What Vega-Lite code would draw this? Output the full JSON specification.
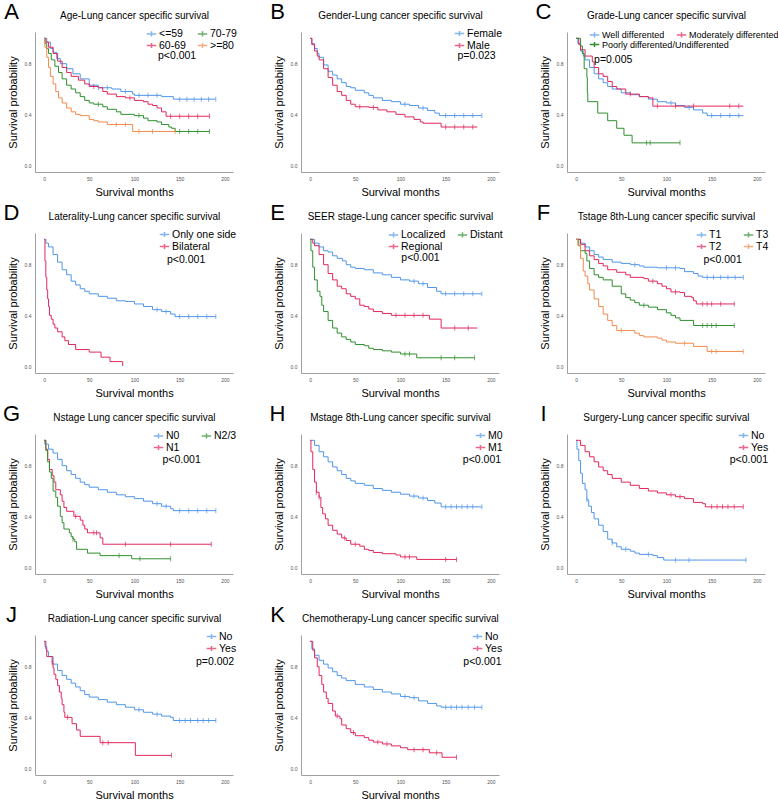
{
"$schema":"https://vega.github.io/schema/vega-lite/v6.json",
"padding":{"left":2,"top":0,"right":0,"bottom":0},
"columns":3,
"spacing":{"row":4,"column":32},
"resolve":{"scale":{"color":"independent","stroke":"independent","x":"independent","y":"independent"},"legend":{"color":"independent","stroke":"independent"}},
"config":{"font":"Liberation Sans","view":{"stroke":null},
"axis":{"domainColor":"#a0a0a0","ticks":false,"grid":false,"labelFontSize":5,"labelColor":"#555","titleFontSize":11,"titleFontWeight":"normal","titleColor":"#000","labelPadding":4},
"axisX":{"titlePadding":5},"axisY":{"titlePadding":6},
"legend":{"orient":"top-right","offset":-4,"padding":0,"labelFontSize":10.5,"labelColor":"#000","symbolType":"M-1,0H1M0,-0.55V0.55","symbolSize":90,"symbolStrokeWidth":1.5,"rowPadding":-6,"columnPadding":8,"labelOffset":2},
"text":{"color":"#000"}},
"datasets":{
"notes":[
{"p":"A","letter":"A","title":"Age-Lung cancer specific survival","pv":"p<0.001"},
{"p":"B","letter":"B","title":"Gender-Lung cancer specific survival","pv":"p=0.023"},
{"p":"C","letter":"C","title":"Grade-Lung cancer specific survival","pv":"p=0.005"},
{"p":"D","letter":"D","title":"Laterality-Lung cancer specific survival","pv":"p<0.001"},
{"p":"E","letter":"E","title":"SEER stage-Lung cancer specific survival","pv":"p<0.001"},
{"p":"F","letter":"F","title":"Tstage 8th-Lung cancer specific survival","pv":"p<0.001"},
{"p":"G","letter":"G","title":"Nstage Lung cancer specific survival","pv":"p<0.001"},
{"p":"H","letter":"H","title":"Mstage 8th-Lung cancer specific survival","pv":"p<0.001"},
{"p":"I","letter":"I","title":"Surgery-Lung cancer specific survival","pv":"p<0.001"},
{"p":"J","letter":"J","title":"Radiation-Lung cancer specific survival","pv":"p=0.002"},
{"p":"K","letter":"K","title":"Chemotherapy-Lung cancer specific survival","pv":"p<0.001"}
],
"km":[
{"p":"A","g":"<=59","t":0,"s":1},{"p":"A","g":"<=59","t":3,"s":0.97},{"p":"A","g":"<=59","t":7,"s":0.92},{"p":"A","g":"<=59","t":10,"s":0.89},{"p":"A","g":"<=59","t":14,"s":0.84},{"p":"A","g":"<=59","t":18,"s":0.8},{"p":"A","g":"<=59","t":25,"s":0.76},{"p":"A","g":"<=59","t":32,"s":0.72},{"p":"A","g":"<=59","t":40,"s":0.68},{"p":"A","g":"<=59","t":50,"s":0.63},{"p":"A","g":"<=59","t":60,"s":0.61},{"p":"A","g":"<=59","t":75,"s":0.6},{"p":"A","g":"<=59","t":85,"s":0.58},{"p":"A","g":"<=59","t":98,"s":0.56},{"p":"A","g":"<=59","t":100,"s":0.55},{"p":"A","g":"<=59","t":130,"s":0.54},{"p":"A","g":"<=59","t":143,"s":0.52},{"p":"A","g":"<=59","t":190,"s":0.52},
{"p":"A","g":"60-69","t":0,"s":1},{"p":"A","g":"60-69","t":2,"s":0.97},{"p":"A","g":"60-69","t":5,"s":0.93},{"p":"A","g":"60-69","t":10,"s":0.88},{"p":"A","g":"60-69","t":15,"s":0.82},{"p":"A","g":"60-69","t":20,"s":0.77},{"p":"A","g":"60-69","t":25,"s":0.73},{"p":"A","g":"60-69","t":30,"s":0.7},{"p":"A","g":"60-69","t":38,"s":0.67},{"p":"A","g":"60-69","t":45,"s":0.64},{"p":"A","g":"60-69","t":50,"s":0.62},{"p":"A","g":"60-69","t":60,"s":0.61},{"p":"A","g":"60-69","t":65,"s":0.58},{"p":"A","g":"60-69","t":70,"s":0.56},{"p":"A","g":"60-69","t":80,"s":0.54},{"p":"A","g":"60-69","t":90,"s":0.53},{"p":"A","g":"60-69","t":100,"s":0.51},{"p":"A","g":"60-69","t":110,"s":0.5},{"p":"A","g":"60-69","t":115,"s":0.48},{"p":"A","g":"60-69","t":120,"s":0.47},{"p":"A","g":"60-69","t":125,"s":0.45},{"p":"A","g":"60-69","t":130,"s":0.42},{"p":"A","g":"60-69","t":135,"s":0.385},{"p":"A","g":"60-69","t":183,"s":0.385},
{"p":"A","g":"70-79","t":0,"s":1},{"p":"A","g":"70-79","t":1,"s":0.96},{"p":"A","g":"70-79","t":3,"s":0.92},{"p":"A","g":"70-79","t":5,"s":0.88},{"p":"A","g":"70-79","t":8,"s":0.83},{"p":"A","g":"70-79","t":12,"s":0.78},{"p":"A","g":"70-79","t":16,"s":0.73},{"p":"A","g":"70-79","t":20,"s":0.68},{"p":"A","g":"70-79","t":25,"s":0.63},{"p":"A","g":"70-79","t":30,"s":0.6},{"p":"A","g":"70-79","t":35,"s":0.57},{"p":"A","g":"70-79","t":40,"s":0.54},{"p":"A","g":"70-79","t":45,"s":0.51},{"p":"A","g":"70-79","t":50,"s":0.49},{"p":"A","g":"70-79","t":55,"s":0.48},{"p":"A","g":"70-79","t":65,"s":0.46},{"p":"A","g":"70-79","t":70,"s":0.44},{"p":"A","g":"70-79","t":80,"s":0.42},{"p":"A","g":"70-79","t":85,"s":0.4},{"p":"A","g":"70-79","t":100,"s":0.39},{"p":"A","g":"70-79","t":110,"s":0.37},{"p":"A","g":"70-79","t":115,"s":0.35},{"p":"A","g":"70-79","t":125,"s":0.34},{"p":"A","g":"70-79","t":130,"s":0.32},{"p":"A","g":"70-79","t":138,"s":0.3},{"p":"A","g":"70-79","t":141,"s":0.29},{"p":"A","g":"70-79","t":145,"s":0.265},{"p":"A","g":"70-79","t":183,"s":0.265},
{"p":"A","g":">=80","t":0,"s":1},{"p":"A","g":">=80","t":1,"s":0.93},{"p":"A","g":">=80","t":3,"s":0.85},{"p":"A","g":">=80","t":5,"s":0.77},{"p":"A","g":">=80","t":7,"s":0.7},{"p":"A","g":">=80","t":10,"s":0.64},{"p":"A","g":">=80","t":13,"s":0.58},{"p":"A","g":">=80","t":16,"s":0.53},{"p":"A","g":">=80","t":20,"s":0.49},{"p":"A","g":">=80","t":25,"s":0.45},{"p":"A","g":">=80","t":30,"s":0.42},{"p":"A","g":">=80","t":35,"s":0.4},{"p":"A","g":">=80","t":40,"s":0.39},{"p":"A","g":">=80","t":50,"s":0.36},{"p":"A","g":">=80","t":55,"s":0.35},{"p":"A","g":">=80","t":60,"s":0.34},{"p":"A","g":">=80","t":70,"s":0.32},{"p":"A","g":">=80","t":98,"s":0.265},{"p":"A","g":">=80","t":145,"s":0.265},
{"p":"B","g":"Female","t":0,"s":1},{"p":"B","g":"Female","t":2,"s":0.96},{"p":"B","g":"Female","t":5,"s":0.92},{"p":"B","g":"Female","t":8,"s":0.88},{"p":"B","g":"Female","t":10,"s":0.85},{"p":"B","g":"Female","t":15,"s":0.79},{"p":"B","g":"Female","t":20,"s":0.74},{"p":"B","g":"Female","t":25,"s":0.71},{"p":"B","g":"Female","t":30,"s":0.68},{"p":"B","g":"Female","t":35,"s":0.65},{"p":"B","g":"Female","t":40,"s":0.62},{"p":"B","g":"Female","t":45,"s":0.61},{"p":"B","g":"Female","t":50,"s":0.59},{"p":"B","g":"Female","t":60,"s":0.57},{"p":"B","g":"Female","t":65,"s":0.55},{"p":"B","g":"Female","t":70,"s":0.53},{"p":"B","g":"Female","t":80,"s":0.51},{"p":"B","g":"Female","t":90,"s":0.5},{"p":"B","g":"Female","t":100,"s":0.48},{"p":"B","g":"Female","t":110,"s":0.47},{"p":"B","g":"Female","t":120,"s":0.45},{"p":"B","g":"Female","t":130,"s":0.43},{"p":"B","g":"Female","t":138,"s":0.41},{"p":"B","g":"Female","t":143,"s":0.39},{"p":"B","g":"Female","t":190,"s":0.39},
{"p":"B","g":"Male","t":0,"s":1},{"p":"B","g":"Male","t":2,"s":0.95},{"p":"B","g":"Male","t":5,"s":0.9},{"p":"B","g":"Male","t":8,"s":0.86},{"p":"B","g":"Male","t":10,"s":0.83},{"p":"B","g":"Male","t":15,"s":0.76},{"p":"B","g":"Male","t":20,"s":0.69},{"p":"B","g":"Male","t":25,"s":0.63},{"p":"B","g":"Male","t":30,"s":0.58},{"p":"B","g":"Male","t":35,"s":0.55},{"p":"B","g":"Male","t":40,"s":0.51},{"p":"B","g":"Male","t":45,"s":0.48},{"p":"B","g":"Male","t":50,"s":0.46},{"p":"B","g":"Male","t":65,"s":0.455},{"p":"B","g":"Male","t":75,"s":0.435},{"p":"B","g":"Male","t":85,"s":0.42},{"p":"B","g":"Male","t":95,"s":0.4},{"p":"B","g":"Male","t":105,"s":0.38},{"p":"B","g":"Male","t":115,"s":0.36},{"p":"B","g":"Male","t":122,"s":0.34},{"p":"B","g":"Male","t":125,"s":0.33},{"p":"B","g":"Male","t":145,"s":0.3},{"p":"B","g":"Male","t":185,"s":0.3},
{"p":"C","g":"Well differented","t":0,"s":1},{"p":"C","g":"Well differented","t":2,"s":0.96},{"p":"C","g":"Well differented","t":5,"s":0.9},{"p":"C","g":"Well differented","t":8,"s":0.86},{"p":"C","g":"Well differented","t":10,"s":0.83},{"p":"C","g":"Well differented","t":15,"s":0.77},{"p":"C","g":"Well differented","t":20,"s":0.72},{"p":"C","g":"Well differented","t":25,"s":0.68},{"p":"C","g":"Well differented","t":30,"s":0.65},{"p":"C","g":"Well differented","t":35,"s":0.62},{"p":"C","g":"Well differented","t":40,"s":0.6},{"p":"C","g":"Well differented","t":50,"s":0.57},{"p":"C","g":"Well differented","t":60,"s":0.555},{"p":"C","g":"Well differented","t":70,"s":0.54},{"p":"C","g":"Well differented","t":80,"s":0.52},{"p":"C","g":"Well differented","t":90,"s":0.5},{"p":"C","g":"Well differented","t":100,"s":0.49},{"p":"C","g":"Well differented","t":110,"s":0.47},{"p":"C","g":"Well differented","t":120,"s":0.455},{"p":"C","g":"Well differented","t":130,"s":0.435},{"p":"C","g":"Well differented","t":140,"s":0.41},{"p":"C","g":"Well differented","t":145,"s":0.39},{"p":"C","g":"Well differented","t":185,"s":0.39},
{"p":"C","g":"Moderately differented","t":0,"s":1},{"p":"C","g":"Moderately differented","t":3,"s":0.95},{"p":"C","g":"Moderately differented","t":5,"s":0.91},{"p":"C","g":"Moderately differented","t":10,"s":0.86},{"p":"C","g":"Moderately differented","t":18,"s":0.815},{"p":"C","g":"Moderately differented","t":20,"s":0.77},{"p":"C","g":"Moderately differented","t":25,"s":0.72},{"p":"C","g":"Moderately differented","t":30,"s":0.7},{"p":"C","g":"Moderately differented","t":35,"s":0.66},{"p":"C","g":"Moderately differented","t":40,"s":0.62},{"p":"C","g":"Moderately differented","t":45,"s":0.6},{"p":"C","g":"Moderately differented","t":55,"s":0.56},{"p":"C","g":"Moderately differented","t":70,"s":0.54},{"p":"C","g":"Moderately differented","t":80,"s":0.53},{"p":"C","g":"Moderately differented","t":85,"s":0.465},{"p":"C","g":"Moderately differented","t":185,"s":0.465},
{"p":"C","g":"Poorly differented/Undifferented","t":0,"s":1},{"p":"C","g":"Poorly differented/Undifferented","t":5,"s":0.94},{"p":"C","g":"Poorly differented/Undifferented","t":7,"s":0.88},{"p":"C","g":"Poorly differented/Undifferented","t":9,"s":0.76},{"p":"C","g":"Poorly differented/Undifferented","t":12,"s":0.69},{"p":"C","g":"Poorly differented/Undifferented","t":12.5,"s":0.57},{"p":"C","g":"Poorly differented/Undifferented","t":13,"s":0.5},{"p":"C","g":"Poorly differented/Undifferented","t":24,"s":0.41},{"p":"C","g":"Poorly differented/Undifferented","t":35,"s":0.35},{"p":"C","g":"Poorly differented/Undifferented","t":45,"s":0.29},{"p":"C","g":"Poorly differented/Undifferented","t":53,"s":0.235},{"p":"C","g":"Poorly differented/Undifferented","t":62,"s":0.175},{"p":"C","g":"Poorly differented/Undifferented","t":115,"s":0.175},
{"p":"D","g":"Only one side","t":0,"s":1},{"p":"D","g":"Only one side","t":2,"s":0.97},{"p":"D","g":"Only one side","t":5,"s":0.94},{"p":"D","g":"Only one side","t":10,"s":0.88},{"p":"D","g":"Only one side","t":15,"s":0.82},{"p":"D","g":"Only one side","t":20,"s":0.76},{"p":"D","g":"Only one side","t":25,"s":0.72},{"p":"D","g":"Only one side","t":30,"s":0.67},{"p":"D","g":"Only one side","t":35,"s":0.64},{"p":"D","g":"Only one side","t":40,"s":0.61},{"p":"D","g":"Only one side","t":45,"s":0.59},{"p":"D","g":"Only one side","t":50,"s":0.57},{"p":"D","g":"Only one side","t":60,"s":0.55},{"p":"D","g":"Only one side","t":70,"s":0.535},{"p":"D","g":"Only one side","t":80,"s":0.515},{"p":"D","g":"Only one side","t":90,"s":0.51},{"p":"D","g":"Only one side","t":100,"s":0.49},{"p":"D","g":"Only one side","t":110,"s":0.47},{"p":"D","g":"Only one side","t":120,"s":0.445},{"p":"D","g":"Only one side","t":130,"s":0.43},{"p":"D","g":"Only one side","t":140,"s":0.41},{"p":"D","g":"Only one side","t":145,"s":0.39},{"p":"D","g":"Only one side","t":190,"s":0.39},
{"p":"D","g":"Bilateral","t":0,"s":1},{"p":"D","g":"Bilateral","t":1,"s":0.83},{"p":"D","g":"Bilateral","t":2,"s":0.7},{"p":"D","g":"Bilateral","t":3,"s":0.6},{"p":"D","g":"Bilateral","t":4,"s":0.53},{"p":"D","g":"Bilateral","t":5,"s":0.47},{"p":"D","g":"Bilateral","t":6,"s":0.4},{"p":"D","g":"Bilateral","t":8,"s":0.37},{"p":"D","g":"Bilateral","t":10,"s":0.33},{"p":"D","g":"Bilateral","t":12,"s":0.3},{"p":"D","g":"Bilateral","t":15,"s":0.27},{"p":"D","g":"Bilateral","t":20,"s":0.23},{"p":"D","g":"Bilateral","t":23,"s":0.2},{"p":"D","g":"Bilateral","t":27,"s":0.17},{"p":"D","g":"Bilateral","t":35,"s":0.13},{"p":"D","g":"Bilateral","t":50,"s":0.11},{"p":"D","g":"Bilateral","t":63,"s":0.07},{"p":"D","g":"Bilateral","t":73,"s":0.035},{"p":"D","g":"Bilateral","t":87,"s":0},
{"p":"E","g":"Localized","t":0,"s":1},{"p":"E","g":"Localized","t":5,"s":0.97},{"p":"E","g":"Localized","t":10,"s":0.94},{"p":"E","g":"Localized","t":15,"s":0.91},{"p":"E","g":"Localized","t":20,"s":0.9},{"p":"E","g":"Localized","t":25,"s":0.87},{"p":"E","g":"Localized","t":30,"s":0.85},{"p":"E","g":"Localized","t":36,"s":0.83},{"p":"E","g":"Localized","t":40,"s":0.8},{"p":"E","g":"Localized","t":45,"s":0.78},{"p":"E","g":"Localized","t":50,"s":0.77},{"p":"E","g":"Localized","t":60,"s":0.76},{"p":"E","g":"Localized","t":70,"s":0.735},{"p":"E","g":"Localized","t":80,"s":0.72},{"p":"E","g":"Localized","t":90,"s":0.7},{"p":"E","g":"Localized","t":100,"s":0.68},{"p":"E","g":"Localized","t":110,"s":0.67},{"p":"E","g":"Localized","t":120,"s":0.65},{"p":"E","g":"Localized","t":130,"s":0.62},{"p":"E","g":"Localized","t":140,"s":0.59},{"p":"E","g":"Localized","t":145,"s":0.57},{"p":"E","g":"Localized","t":190,"s":0.57},
{"p":"E","g":"Regional","t":0,"s":1},{"p":"E","g":"Regional","t":3,"s":0.97},{"p":"E","g":"Regional","t":5,"s":0.95},{"p":"E","g":"Regional","t":10,"s":0.88},{"p":"E","g":"Regional","t":15,"s":0.8},{"p":"E","g":"Regional","t":20,"s":0.73},{"p":"E","g":"Regional","t":25,"s":0.68},{"p":"E","g":"Regional","t":30,"s":0.63},{"p":"E","g":"Regional","t":35,"s":0.61},{"p":"E","g":"Regional","t":40,"s":0.57},{"p":"E","g":"Regional","t":45,"s":0.55},{"p":"E","g":"Regional","t":50,"s":0.53},{"p":"E","g":"Regional","t":55,"s":0.48},{"p":"E","g":"Regional","t":60,"s":0.47},{"p":"E","g":"Regional","t":65,"s":0.45},{"p":"E","g":"Regional","t":70,"s":0.43},{"p":"E","g":"Regional","t":80,"s":0.415},{"p":"E","g":"Regional","t":90,"s":0.4},{"p":"E","g":"Regional","t":132,"s":0.37},{"p":"E","g":"Regional","t":145,"s":0.3},{"p":"E","g":"Regional","t":185,"s":0.3},
{"p":"E","g":"Distant","t":0,"s":1},{"p":"E","g":"Distant","t":1,"s":0.91},{"p":"E","g":"Distant","t":3,"s":0.78},{"p":"E","g":"Distant","t":5,"s":0.68},{"p":"E","g":"Distant","t":8,"s":0.59},{"p":"E","g":"Distant","t":11,"s":0.55},{"p":"E","g":"Distant","t":13,"s":0.48},{"p":"E","g":"Distant","t":15,"s":0.43},{"p":"E","g":"Distant","t":20,"s":0.36},{"p":"E","g":"Distant","t":25,"s":0.3},{"p":"E","g":"Distant","t":30,"s":0.26},{"p":"E","g":"Distant","t":35,"s":0.23},{"p":"E","g":"Distant","t":40,"s":0.21},{"p":"E","g":"Distant","t":45,"s":0.19},{"p":"E","g":"Distant","t":50,"s":0.17},{"p":"E","g":"Distant","t":60,"s":0.16},{"p":"E","g":"Distant","t":65,"s":0.14},{"p":"E","g":"Distant","t":70,"s":0.13},{"p":"E","g":"Distant","t":80,"s":0.12},{"p":"E","g":"Distant","t":90,"s":0.11},{"p":"E","g":"Distant","t":100,"s":0.095},{"p":"E","g":"Distant","t":118,"s":0.065},{"p":"E","g":"Distant","t":182,"s":0.065},
{"p":"F","g":"T1","t":0,"s":1},{"p":"F","g":"T1","t":5,"s":0.97},{"p":"F","g":"T1","t":10,"s":0.94},{"p":"F","g":"T1","t":15,"s":0.91},{"p":"F","g":"T1","t":20,"s":0.88},{"p":"F","g":"T1","t":25,"s":0.86},{"p":"F","g":"T1","t":30,"s":0.84},{"p":"F","g":"T1","t":40,"s":0.82},{"p":"F","g":"T1","t":50,"s":0.81},{"p":"F","g":"T1","t":60,"s":0.8},{"p":"F","g":"T1","t":70,"s":0.79},{"p":"F","g":"T1","t":75,"s":0.78},{"p":"F","g":"T1","t":90,"s":0.775},{"p":"F","g":"T1","t":115,"s":0.77},{"p":"F","g":"T1","t":120,"s":0.745},{"p":"F","g":"T1","t":130,"s":0.73},{"p":"F","g":"T1","t":135,"s":0.71},{"p":"F","g":"T1","t":140,"s":0.7},{"p":"F","g":"T1","t":185,"s":0.7},
{"p":"F","g":"T2","t":0,"s":1},{"p":"F","g":"T2","t":5,"s":0.96},{"p":"F","g":"T2","t":10,"s":0.91},{"p":"F","g":"T2","t":15,"s":0.87},{"p":"F","g":"T2","t":20,"s":0.84},{"p":"F","g":"T2","t":25,"s":0.81},{"p":"F","g":"T2","t":30,"s":0.79},{"p":"F","g":"T2","t":35,"s":0.76},{"p":"F","g":"T2","t":45,"s":0.74},{"p":"F","g":"T2","t":55,"s":0.72},{"p":"F","g":"T2","t":60,"s":0.7},{"p":"F","g":"T2","t":75,"s":0.69},{"p":"F","g":"T2","t":80,"s":0.67},{"p":"F","g":"T2","t":90,"s":0.65},{"p":"F","g":"T2","t":95,"s":0.63},{"p":"F","g":"T2","t":100,"s":0.61},{"p":"F","g":"T2","t":105,"s":0.585},{"p":"F","g":"T2","t":115,"s":0.58},{"p":"F","g":"T2","t":120,"s":0.55},{"p":"F","g":"T2","t":128,"s":0.54},{"p":"F","g":"T2","t":130,"s":0.515},{"p":"F","g":"T2","t":133,"s":0.49},{"p":"F","g":"T2","t":175,"s":0.49},
{"p":"F","g":"T3","t":0,"s":1},{"p":"F","g":"T3","t":3,"s":0.95},{"p":"F","g":"T3","t":5,"s":0.91},{"p":"F","g":"T3","t":10,"s":0.89},{"p":"F","g":"T3","t":12,"s":0.83},{"p":"F","g":"T3","t":15,"s":0.77},{"p":"F","g":"T3","t":20,"s":0.72},{"p":"F","g":"T3","t":25,"s":0.7},{"p":"F","g":"T3","t":30,"s":0.68},{"p":"F","g":"T3","t":40,"s":0.63},{"p":"F","g":"T3","t":50,"s":0.57},{"p":"F","g":"T3","t":55,"s":0.54},{"p":"F","g":"T3","t":60,"s":0.52},{"p":"F","g":"T3","t":65,"s":0.5},{"p":"F","g":"T3","t":70,"s":0.48},{"p":"F","g":"T3","t":80,"s":0.465},{"p":"F","g":"T3","t":90,"s":0.445},{"p":"F","g":"T3","t":100,"s":0.42},{"p":"F","g":"T3","t":105,"s":0.4},{"p":"F","g":"T3","t":110,"s":0.38},{"p":"F","g":"T3","t":115,"s":0.36},{"p":"F","g":"T3","t":130,"s":0.32},{"p":"F","g":"T3","t":175,"s":0.32},
{"p":"F","g":"T4","t":0,"s":1},{"p":"F","g":"T4","t":2,"s":0.95},{"p":"F","g":"T4","t":5,"s":0.85},{"p":"F","g":"T4","t":8,"s":0.75},{"p":"F","g":"T4","t":10,"s":0.71},{"p":"F","g":"T4","t":13,"s":0.65},{"p":"F","g":"T4","t":15,"s":0.6},{"p":"F","g":"T4","t":20,"s":0.53},{"p":"F","g":"T4","t":25,"s":0.47},{"p":"F","g":"T4","t":30,"s":0.41},{"p":"F","g":"T4","t":35,"s":0.36},{"p":"F","g":"T4","t":40,"s":0.32},{"p":"F","g":"T4","t":45,"s":0.28},{"p":"F","g":"T4","t":60,"s":0.28},{"p":"F","g":"T4","t":65,"s":0.26},{"p":"F","g":"T4","t":70,"s":0.24},{"p":"F","g":"T4","t":75,"s":0.23},{"p":"F","g":"T4","t":90,"s":0.22},{"p":"F","g":"T4","t":95,"s":0.205},{"p":"F","g":"T4","t":100,"s":0.19},{"p":"F","g":"T4","t":110,"s":0.18},{"p":"F","g":"T4","t":130,"s":0.155},{"p":"F","g":"T4","t":145,"s":0.115},{"p":"F","g":"T4","t":185,"s":0.115},
{"p":"G","g":"N0","t":0,"s":1},{"p":"G","g":"N0","t":2,"s":0.97},{"p":"G","g":"N0","t":5,"s":0.93},{"p":"G","g":"N0","t":10,"s":0.9},{"p":"G","g":"N0","t":15,"s":0.85},{"p":"G","g":"N0","t":20,"s":0.8},{"p":"G","g":"N0","t":25,"s":0.76},{"p":"G","g":"N0","t":30,"s":0.73},{"p":"G","g":"N0","t":35,"s":0.7},{"p":"G","g":"N0","t":40,"s":0.67},{"p":"G","g":"N0","t":45,"s":0.65},{"p":"G","g":"N0","t":50,"s":0.63},{"p":"G","g":"N0","t":60,"s":0.61},{"p":"G","g":"N0","t":70,"s":0.59},{"p":"G","g":"N0","t":80,"s":0.57},{"p":"G","g":"N0","t":90,"s":0.555},{"p":"G","g":"N0","t":100,"s":0.54},{"p":"G","g":"N0","t":110,"s":0.52},{"p":"G","g":"N0","t":120,"s":0.5},{"p":"G","g":"N0","t":130,"s":0.48},{"p":"G","g":"N0","t":140,"s":0.46},{"p":"G","g":"N0","t":143,"s":0.445},{"p":"G","g":"N0","t":190,"s":0.445},
{"p":"G","g":"N1","t":0,"s":1},{"p":"G","g":"N1","t":2,"s":0.93},{"p":"G","g":"N1","t":4,"s":0.85},{"p":"G","g":"N1","t":6,"s":0.77},{"p":"G","g":"N1","t":9,"s":0.72},{"p":"G","g":"N1","t":11,"s":0.67},{"p":"G","g":"N1","t":13,"s":0.61},{"p":"G","g":"N1","t":18,"s":0.57},{"p":"G","g":"N1","t":20,"s":0.52},{"p":"G","g":"N1","t":22,"s":0.47},{"p":"G","g":"N1","t":25,"s":0.44},{"p":"G","g":"N1","t":33,"s":0.4},{"p":"G","g":"N1","t":40,"s":0.37},{"p":"G","g":"N1","t":43,"s":0.33},{"p":"G","g":"N1","t":45,"s":0.3},{"p":"G","g":"N1","t":48,"s":0.27},{"p":"G","g":"N1","t":62,"s":0.23},{"p":"G","g":"N1","t":65,"s":0.18},{"p":"G","g":"N1","t":185,"s":0.18},
{"p":"G","g":"N2/3","t":0,"s":1},{"p":"G","g":"N2/3","t":1,"s":0.97},{"p":"G","g":"N2/3","t":2,"s":0.92},{"p":"G","g":"N2/3","t":4,"s":0.83},{"p":"G","g":"N2/3","t":6,"s":0.75},{"p":"G","g":"N2/3","t":8,"s":0.7},{"p":"G","g":"N2/3","t":10,"s":0.6},{"p":"G","g":"N2/3","t":13,"s":0.55},{"p":"G","g":"N2/3","t":15,"s":0.48},{"p":"G","g":"N2/3","t":18,"s":0.4},{"p":"G","g":"N2/3","t":20,"s":0.35},{"p":"G","g":"N2/3","t":22,"s":0.3},{"p":"G","g":"N2/3","t":28,"s":0.27},{"p":"G","g":"N2/3","t":30,"s":0.24},{"p":"G","g":"N2/3","t":32,"s":0.22},{"p":"G","g":"N2/3","t":34,"s":0.2},{"p":"G","g":"N2/3","t":36,"s":0.14},{"p":"G","g":"N2/3","t":48,"s":0.11},{"p":"G","g":"N2/3","t":62,"s":0.09},{"p":"G","g":"N2/3","t":97,"s":0.065},{"p":"G","g":"N2/3","t":140,"s":0.065},
{"p":"H","g":"M0","t":0,"s":1},{"p":"H","g":"M0","t":5,"s":0.96},{"p":"H","g":"M0","t":10,"s":0.91},{"p":"H","g":"M0","t":15,"s":0.87},{"p":"H","g":"M0","t":20,"s":0.83},{"p":"H","g":"M0","t":25,"s":0.79},{"p":"H","g":"M0","t":30,"s":0.76},{"p":"H","g":"M0","t":35,"s":0.73},{"p":"H","g":"M0","t":40,"s":0.7},{"p":"H","g":"M0","t":45,"s":0.68},{"p":"H","g":"M0","t":50,"s":0.66},{"p":"H","g":"M0","t":60,"s":0.645},{"p":"H","g":"M0","t":70,"s":0.62},{"p":"H","g":"M0","t":80,"s":0.605},{"p":"H","g":"M0","t":90,"s":0.59},{"p":"H","g":"M0","t":100,"s":0.575},{"p":"H","g":"M0","t":110,"s":0.56},{"p":"H","g":"M0","t":120,"s":0.545},{"p":"H","g":"M0","t":130,"s":0.525},{"p":"H","g":"M0","t":138,"s":0.505},{"p":"H","g":"M0","t":145,"s":0.475},{"p":"H","g":"M0","t":190,"s":0.475},
{"p":"H","g":"M1","t":0,"s":1},{"p":"H","g":"M1","t":1,"s":0.91},{"p":"H","g":"M1","t":3,"s":0.77},{"p":"H","g":"M1","t":5,"s":0.67},{"p":"H","g":"M1","t":7,"s":0.59},{"p":"H","g":"M1","t":10,"s":0.55},{"p":"H","g":"M1","t":12,"s":0.47},{"p":"H","g":"M1","t":14,"s":0.42},{"p":"H","g":"M1","t":17,"s":0.38},{"p":"H","g":"M1","t":20,"s":0.33},{"p":"H","g":"M1","t":25,"s":0.29},{"p":"H","g":"M1","t":30,"s":0.26},{"p":"H","g":"M1","t":35,"s":0.23},{"p":"H","g":"M1","t":40,"s":0.21},{"p":"H","g":"M1","t":45,"s":0.18},{"p":"H","g":"M1","t":55,"s":0.165},{"p":"H","g":"M1","t":60,"s":0.14},{"p":"H","g":"M1","t":65,"s":0.13},{"p":"H","g":"M1","t":70,"s":0.115},{"p":"H","g":"M1","t":80,"s":0.105},{"p":"H","g":"M1","t":95,"s":0.095},{"p":"H","g":"M1","t":100,"s":0.08},{"p":"H","g":"M1","t":118,"s":0.06},{"p":"H","g":"M1","t":162,"s":0.06},
{"p":"I","g":"No","t":0,"s":1},{"p":"I","g":"No","t":1,"s":0.93},{"p":"I","g":"No","t":3,"s":0.84},{"p":"I","g":"No","t":5,"s":0.74},{"p":"I","g":"No","t":7,"s":0.66},{"p":"I","g":"No","t":10,"s":0.61},{"p":"I","g":"No","t":12,"s":0.53},{"p":"I","g":"No","t":14,"s":0.48},{"p":"I","g":"No","t":17,"s":0.43},{"p":"I","g":"No","t":20,"s":0.38},{"p":"I","g":"No","t":25,"s":0.33},{"p":"I","g":"No","t":30,"s":0.28},{"p":"I","g":"No","t":35,"s":0.22},{"p":"I","g":"No","t":40,"s":0.19},{"p":"I","g":"No","t":45,"s":0.16},{"p":"I","g":"No","t":50,"s":0.14},{"p":"I","g":"No","t":60,"s":0.125},{"p":"I","g":"No","t":65,"s":0.11},{"p":"I","g":"No","t":70,"s":0.1},{"p":"I","g":"No","t":85,"s":0.09},{"p":"I","g":"No","t":90,"s":0.075},{"p":"I","g":"No","t":97,"s":0.055},{"p":"I","g":"No","t":188,"s":0.055},
{"p":"I","g":"Yes","t":0,"s":1},{"p":"I","g":"Yes","t":5,"s":0.96},{"p":"I","g":"Yes","t":10,"s":0.91},{"p":"I","g":"Yes","t":15,"s":0.87},{"p":"I","g":"Yes","t":20,"s":0.83},{"p":"I","g":"Yes","t":25,"s":0.79},{"p":"I","g":"Yes","t":30,"s":0.76},{"p":"I","g":"Yes","t":35,"s":0.73},{"p":"I","g":"Yes","t":40,"s":0.7},{"p":"I","g":"Yes","t":50,"s":0.67},{"p":"I","g":"Yes","t":60,"s":0.645},{"p":"I","g":"Yes","t":70,"s":0.62},{"p":"I","g":"Yes","t":80,"s":0.6},{"p":"I","g":"Yes","t":90,"s":0.585},{"p":"I","g":"Yes","t":100,"s":0.57},{"p":"I","g":"Yes","t":110,"s":0.555},{"p":"I","g":"Yes","t":120,"s":0.54},{"p":"I","g":"Yes","t":130,"s":0.51},{"p":"I","g":"Yes","t":140,"s":0.5},{"p":"I","g":"Yes","t":143,"s":0.475},{"p":"I","g":"Yes","t":185,"s":0.475},
{"p":"J","g":"No","t":0,"s":1},{"p":"J","g":"No","t":1,"s":0.96},{"p":"J","g":"No","t":3,"s":0.92},{"p":"J","g":"No","t":5,"s":0.88},{"p":"J","g":"No","t":10,"s":0.82},{"p":"J","g":"No","t":15,"s":0.77},{"p":"J","g":"No","t":20,"s":0.73},{"p":"J","g":"No","t":25,"s":0.7},{"p":"J","g":"No","t":30,"s":0.67},{"p":"J","g":"No","t":35,"s":0.64},{"p":"J","g":"No","t":40,"s":0.61},{"p":"J","g":"No","t":45,"s":0.58},{"p":"J","g":"No","t":50,"s":0.56},{"p":"J","g":"No","t":60,"s":0.54},{"p":"J","g":"No","t":70,"s":0.52},{"p":"J","g":"No","t":80,"s":0.5},{"p":"J","g":"No","t":90,"s":0.48},{"p":"J","g":"No","t":100,"s":0.46},{"p":"J","g":"No","t":110,"s":0.44},{"p":"J","g":"No","t":120,"s":0.425},{"p":"J","g":"No","t":130,"s":0.41},{"p":"J","g":"No","t":140,"s":0.4},{"p":"J","g":"No","t":143,"s":0.375},{"p":"J","g":"No","t":190,"s":0.375},
{"p":"J","g":"Yes","t":0,"s":1},{"p":"J","g":"Yes","t":2,"s":0.94},{"p":"J","g":"Yes","t":3,"s":0.88},{"p":"J","g":"Yes","t":9,"s":0.83},{"p":"J","g":"Yes","t":10,"s":0.79},{"p":"J","g":"Yes","t":11,"s":0.74},{"p":"J","g":"Yes","t":13,"s":0.7},{"p":"J","g":"Yes","t":15,"s":0.65},{"p":"J","g":"Yes","t":17,"s":0.6},{"p":"J","g":"Yes","t":19,"s":0.55},{"p":"J","g":"Yes","t":20,"s":0.5},{"p":"J","g":"Yes","t":22,"s":0.44},{"p":"J","g":"Yes","t":23,"s":0.4},{"p":"J","g":"Yes","t":31,"s":0.35},{"p":"J","g":"Yes","t":36,"s":0.3},{"p":"J","g":"Yes","t":40,"s":0.25},{"p":"J","g":"Yes","t":62,"s":0.2},{"p":"J","g":"Yes","t":101,"s":0.1},{"p":"J","g":"Yes","t":141,"s":0.1},
{"p":"K","g":"No","t":0,"s":1},{"p":"K","g":"No","t":2,"s":0.94},{"p":"K","g":"No","t":5,"s":0.89},{"p":"K","g":"No","t":10,"s":0.85},{"p":"K","g":"No","t":15,"s":0.82},{"p":"K","g":"No","t":20,"s":0.79},{"p":"K","g":"No","t":25,"s":0.76},{"p":"K","g":"No","t":30,"s":0.73},{"p":"K","g":"No","t":35,"s":0.71},{"p":"K","g":"No","t":40,"s":0.69},{"p":"K","g":"No","t":50,"s":0.66},{"p":"K","g":"No","t":60,"s":0.64},{"p":"K","g":"No","t":70,"s":0.62},{"p":"K","g":"No","t":80,"s":0.6},{"p":"K","g":"No","t":90,"s":0.585},{"p":"K","g":"No","t":100,"s":0.565},{"p":"K","g":"No","t":110,"s":0.555},{"p":"K","g":"No","t":120,"s":0.53},{"p":"K","g":"No","t":130,"s":0.51},{"p":"K","g":"No","t":140,"s":0.49},{"p":"K","g":"No","t":145,"s":0.48},{"p":"K","g":"No","t":190,"s":0.48},
{"p":"K","g":"Yes","t":0,"s":1},{"p":"K","g":"Yes","t":3,"s":0.93},{"p":"K","g":"Yes","t":5,"s":0.87},{"p":"K","g":"Yes","t":8,"s":0.8},{"p":"K","g":"Yes","t":10,"s":0.73},{"p":"K","g":"Yes","t":13,"s":0.66},{"p":"K","g":"Yes","t":15,"s":0.6},{"p":"K","g":"Yes","t":18,"s":0.55},{"p":"K","g":"Yes","t":20,"s":0.51},{"p":"K","g":"Yes","t":25,"s":0.45},{"p":"K","g":"Yes","t":28,"s":0.41},{"p":"K","g":"Yes","t":33,"s":0.39},{"p":"K","g":"Yes","t":35,"s":0.34},{"p":"K","g":"Yes","t":40,"s":0.31},{"p":"K","g":"Yes","t":45,"s":0.28},{"p":"K","g":"Yes","t":50,"s":0.255},{"p":"K","g":"Yes","t":60,"s":0.24},{"p":"K","g":"Yes","t":65,"s":0.22},{"p":"K","g":"Yes","t":70,"s":0.205},{"p":"K","g":"Yes","t":80,"s":0.19},{"p":"K","g":"Yes","t":90,"s":0.175},{"p":"K","g":"Yes","t":100,"s":0.16},{"p":"K","g":"Yes","t":108,"s":0.145},{"p":"K","g":"Yes","t":132,"s":0.12},{"p":"K","g":"Yes","t":146,"s":0.085},{"p":"K","g":"Yes","t":162,"s":0.085}
],
"cens":[
{"p":"A","g":"<=59","t":60,"s":0.61},{"p":"A","g":"<=59","t":70,"s":0.61},{"p":"A","g":"<=59","t":90,"s":0.58},{"p":"A","g":"<=59","t":105,"s":0.55},{"p":"A","g":"<=59","t":115,"s":0.55},{"p":"A","g":"<=59","t":125,"s":0.55},{"p":"A","g":"<=59","t":150,"s":0.52},{"p":"A","g":"<=59","t":158,"s":0.52},{"p":"A","g":"<=59","t":166,"s":0.52},{"p":"A","g":"<=59","t":174,"s":0.52},{"p":"A","g":"<=59","t":182,"s":0.52},{"p":"A","g":"<=59","t":190,"s":0.52},
{"p":"A","g":"60-69","t":55,"s":0.62},{"p":"A","g":"60-69","t":95,"s":0.53},{"p":"A","g":"60-69","t":140,"s":0.385},{"p":"A","g":"60-69","t":150,"s":0.385},{"p":"A","g":"60-69","t":160,"s":0.385},{"p":"A","g":"60-69","t":170,"s":0.385},{"p":"A","g":"60-69","t":183,"s":0.385},
{"p":"A","g":"70-79","t":60,"s":0.48},{"p":"A","g":"70-79","t":105,"s":0.39},{"p":"A","g":"70-79","t":150,"s":0.265},{"p":"A","g":"70-79","t":160,"s":0.265},{"p":"A","g":"70-79","t":170,"s":0.265},{"p":"A","g":"70-79","t":183,"s":0.265},
{"p":"A","g":">=80","t":80,"s":0.32},{"p":"A","g":">=80","t":90,"s":0.32},{"p":"A","g":">=80","t":105,"s":0.265},{"p":"A","g":">=80","t":120,"s":0.265},{"p":"A","g":">=80","t":145,"s":0.265},
{"p":"B","g":"Female","t":105,"s":0.48},{"p":"B","g":"Female","t":125,"s":0.45},{"p":"B","g":"Female","t":150,"s":0.39},{"p":"B","g":"Female","t":160,"s":0.39},{"p":"B","g":"Female","t":170,"s":0.39},{"p":"B","g":"Female","t":180,"s":0.39},{"p":"B","g":"Female","t":190,"s":0.39},
{"p":"B","g":"Male","t":55,"s":0.46},{"p":"B","g":"Male","t":70,"s":0.455},{"p":"B","g":"Male","t":150,"s":0.3},{"p":"B","g":"Male","t":160,"s":0.3},{"p":"B","g":"Male","t":170,"s":0.3},{"p":"B","g":"Male","t":180,"s":0.3},
{"p":"C","g":"Well differented","t":105,"s":0.49},{"p":"C","g":"Well differented","t":125,"s":0.455},{"p":"C","g":"Well differented","t":150,"s":0.39},{"p":"C","g":"Well differented","t":160,"s":0.39},{"p":"C","g":"Well differented","t":170,"s":0.39},{"p":"C","g":"Well differented","t":180,"s":0.39},
{"p":"C","g":"Moderately differented","t":60,"s":0.56},{"p":"C","g":"Moderately differented","t":90,"s":0.465},{"p":"C","g":"Moderately differented","t":110,"s":0.465},{"p":"C","g":"Moderately differented","t":130,"s":0.465},{"p":"C","g":"Moderately differented","t":170,"s":0.465},{"p":"C","g":"Moderately differented","t":180,"s":0.465},
{"p":"C","g":"Poorly differented/Undifferented","t":78,"s":0.175},{"p":"C","g":"Poorly differented/Undifferented","t":82,"s":0.175},{"p":"C","g":"Poorly differented/Undifferented","t":115,"s":0.175},
{"p":"D","g":"Only one side","t":125,"s":0.445},{"p":"D","g":"Only one side","t":135,"s":0.43},{"p":"D","g":"Only one side","t":150,"s":0.39},{"p":"D","g":"Only one side","t":160,"s":0.39},{"p":"D","g":"Only one side","t":170,"s":0.39},{"p":"D","g":"Only one side","t":180,"s":0.39},{"p":"D","g":"Only one side","t":190,"s":0.39},
{"p":"E","g":"Localized","t":115,"s":0.67},{"p":"E","g":"Localized","t":125,"s":0.65},{"p":"E","g":"Localized","t":150,"s":0.57},{"p":"E","g":"Localized","t":160,"s":0.57},{"p":"E","g":"Localized","t":170,"s":0.57},{"p":"E","g":"Localized","t":180,"s":0.57},{"p":"E","g":"Localized","t":190,"s":0.57},
{"p":"E","g":"Regional","t":95,"s":0.4},{"p":"E","g":"Regional","t":105,"s":0.4},{"p":"E","g":"Regional","t":115,"s":0.4},{"p":"E","g":"Regional","t":125,"s":0.4},{"p":"E","g":"Regional","t":160,"s":0.3},{"p":"E","g":"Regional","t":175,"s":0.3},
{"p":"E","g":"Distant","t":105,"s":0.095},{"p":"E","g":"Distant","t":110,"s":0.095},{"p":"E","g":"Distant","t":145,"s":0.065},{"p":"E","g":"Distant","t":160,"s":0.065},{"p":"E","g":"Distant","t":182,"s":0.065},
{"p":"F","g":"T1","t":65,"s":0.8},{"p":"F","g":"T1","t":100,"s":0.775},{"p":"F","g":"T1","t":110,"s":0.775},{"p":"F","g":"T1","t":145,"s":0.7},{"p":"F","g":"T1","t":152,"s":0.7},{"p":"F","g":"T1","t":160,"s":0.7},{"p":"F","g":"T1","t":168,"s":0.7},{"p":"F","g":"T1","t":176,"s":0.7},{"p":"F","g":"T1","t":185,"s":0.7},
{"p":"F","g":"T2","t":85,"s":0.67},{"p":"F","g":"T2","t":110,"s":0.585},{"p":"F","g":"T2","t":140,"s":0.49},{"p":"F","g":"T2","t":145,"s":0.49},{"p":"F","g":"T2","t":150,"s":0.49},{"p":"F","g":"T2","t":160,"s":0.49},{"p":"F","g":"T2","t":175,"s":0.49},
{"p":"F","g":"T3","t":75,"s":0.48},{"p":"F","g":"T3","t":140,"s":0.32},{"p":"F","g":"T3","t":145,"s":0.32},{"p":"F","g":"T3","t":150,"s":0.32},{"p":"F","g":"T3","t":155,"s":0.32},{"p":"F","g":"T3","t":175,"s":0.32},
{"p":"F","g":"T4","t":50,"s":0.28},{"p":"F","g":"T4","t":120,"s":0.18},{"p":"F","g":"T4","t":150,"s":0.115},{"p":"F","g":"T4","t":155,"s":0.115},{"p":"F","g":"T4","t":185,"s":0.115},
{"p":"G","g":"N0","t":125,"s":0.5},{"p":"G","g":"N0","t":135,"s":0.48},{"p":"G","g":"N0","t":150,"s":0.445},{"p":"G","g":"N0","t":160,"s":0.445},{"p":"G","g":"N0","t":170,"s":0.445},{"p":"G","g":"N0","t":180,"s":0.445},{"p":"G","g":"N0","t":190,"s":0.445},
{"p":"G","g":"N1","t":35,"s":0.4},{"p":"G","g":"N1","t":55,"s":0.27},{"p":"G","g":"N1","t":58,"s":0.27},{"p":"G","g":"N1","t":90,"s":0.18},{"p":"G","g":"N1","t":140,"s":0.18},{"p":"G","g":"N1","t":185,"s":0.18},
{"p":"G","g":"N2/3","t":32,"s":0.22},{"p":"G","g":"N2/3","t":83,"s":0.09},{"p":"G","g":"N2/3","t":106,"s":0.065},{"p":"G","g":"N2/3","t":140,"s":0.065},
{"p":"H","g":"M0","t":115,"s":0.56},{"p":"H","g":"M0","t":125,"s":0.545},{"p":"H","g":"M0","t":150,"s":0.475},{"p":"H","g":"M0","t":156,"s":0.475},{"p":"H","g":"M0","t":162,"s":0.475},{"p":"H","g":"M0","t":168,"s":0.475},{"p":"H","g":"M0","t":174,"s":0.475},{"p":"H","g":"M0","t":180,"s":0.475},{"p":"H","g":"M0","t":190,"s":0.475},
{"p":"H","g":"M1","t":7,"s":0.59},{"p":"H","g":"M1","t":10,"s":0.55},{"p":"H","g":"M1","t":38,"s":0.23},{"p":"H","g":"M1","t":50,"s":0.18},{"p":"H","g":"M1","t":105,"s":0.08},{"p":"H","g":"M1","t":110,"s":0.08},{"p":"H","g":"M1","t":150,"s":0.06},{"p":"H","g":"M1","t":162,"s":0.06},
{"p":"I","g":"No","t":12,"s":0.53},{"p":"I","g":"No","t":40,"s":0.19},{"p":"I","g":"No","t":55,"s":0.14},{"p":"I","g":"No","t":80,"s":0.1},{"p":"I","g":"No","t":110,"s":0.055},{"p":"I","g":"No","t":125,"s":0.055},{"p":"I","g":"No","t":188,"s":0.055},
{"p":"I","g":"Yes","t":105,"s":0.57},{"p":"I","g":"Yes","t":115,"s":0.555},{"p":"I","g":"Yes","t":150,"s":0.475},{"p":"I","g":"Yes","t":156,"s":0.475},{"p":"I","g":"Yes","t":162,"s":0.475},{"p":"I","g":"Yes","t":168,"s":0.475},{"p":"I","g":"Yes","t":175,"s":0.475},{"p":"I","g":"Yes","t":185,"s":0.475},
{"p":"J","g":"No","t":105,"s":0.46},{"p":"J","g":"No","t":125,"s":0.425},{"p":"J","g":"No","t":150,"s":0.375},{"p":"J","g":"No","t":156,"s":0.375},{"p":"J","g":"No","t":162,"s":0.375},{"p":"J","g":"No","t":170,"s":0.375},{"p":"J","g":"No","t":176,"s":0.375},{"p":"J","g":"No","t":182,"s":0.375},{"p":"J","g":"No","t":190,"s":0.375},
{"p":"J","g":"Yes","t":9,"s":0.83},{"p":"J","g":"Yes","t":26,"s":0.4},{"p":"J","g":"Yes","t":65,"s":0.2},{"p":"J","g":"Yes","t":71,"s":0.2},{"p":"J","g":"Yes","t":141,"s":0.1},
{"p":"K","g":"No","t":105,"s":0.565},{"p":"K","g":"No","t":115,"s":0.555},{"p":"K","g":"No","t":150,"s":0.48},{"p":"K","g":"No","t":156,"s":0.48},{"p":"K","g":"No","t":162,"s":0.48},{"p":"K","g":"No","t":168,"s":0.48},{"p":"K","g":"No","t":175,"s":0.48},{"p":"K","g":"No","t":182,"s":0.48},{"p":"K","g":"No","t":190,"s":0.48},
{"p":"K","g":"Yes","t":30,"s":0.41},{"p":"K","g":"Yes","t":48,"s":0.28},{"p":"K","g":"Yes","t":75,"s":0.205},{"p":"K","g":"Yes","t":85,"s":0.19},{"p":"K","g":"Yes","t":115,"s":0.145},{"p":"K","g":"Yes","t":125,"s":0.145},{"p":"K","g":"Yes","t":140,"s":0.12},{"p":"K","g":"Yes","t":162,"s":0.085}
]},
"concat":[
{"width":198,"height":140,"layer":[
{"data":{"name":"km"},"transform":[{"filter":"datum.p==='A'"}],"mark":{"type":"line","interpolate":"step-after","strokeWidth":1},"encoding":{"x":{"field":"t","type":"quantitative","scale":{"domain":[-10,209],"nice":false,"zero":false},"axis":{"values":[0,50,100,150,200],"title":"Survival months"}},"y":{"field":"s","type":"quantitative","scale":{"domain":[-0.055,1.05],"nice":false,"zero":false},"axis":{"values":[0,0.2,0.4,0.6,0.8,1],"format":".1f","title":"Survival probability"}},"color":{"field":"g","type":"nominal","scale":{"domain":["<=59","60-69","70-79",">=80"],"range":["#5096ea","#e2275b","#2f8f2f","#f28a4c"]},"legend":{"title":null,"columns":2}}}},
{"data":{"name":"cens"},"transform":[{"filter":"datum.p==='A'"}],"mark":{"type":"tick","orient":"vertical","size":5,"thickness":1},"encoding":{"x":{"field":"t","type":"quantitative"},"y":{"field":"s","type":"quantitative"},"color":{"field":"g","type":"nominal","legend":{"title":null,"columns":2}}}},
{"data":{"name":"notes"},"transform":[{"filter":"datum.p==='A'"}],"mark":{"type":"text","fontSize":10.5,"align":"left","baseline":"middle"},"encoding":{"x":{"datum":126},"y":{"datum":0.86},"text":{"field":"pv"}}},
{"data":{"name":"notes"},"transform":[{"filter":"datum.p==='A'"}],"mark":{"type":"text","fontSize":10,"baseline":"middle"},"encoding":{"x":{"datum":100},"y":{"datum":1.18},"text":{"field":"title"}}},
{"data":{"name":"notes"},"transform":[{"filter":"datum.p==='A'"}],"mark":{"type":"text","fontSize":22,"baseline":"middle"},"encoding":{"x":{"datum":-36},"y":{"datum":1.21},"text":{"field":"letter"}}}
]},
{"width":198,"height":140,"layer":[
{"data":{"name":"km"},"transform":[{"filter":"datum.p==='B'"}],"mark":{"type":"line","interpolate":"step-after","strokeWidth":1},"encoding":{"x":{"field":"t","type":"quantitative","scale":{"domain":[-10,209],"nice":false,"zero":false},"axis":{"values":[0,50,100,150,200],"title":"Survival months"}},"y":{"field":"s","type":"quantitative","scale":{"domain":[-0.055,1.05],"nice":false,"zero":false},"axis":{"values":[0,0.2,0.4,0.6,0.8,1],"format":".1f","title":"Survival probability"}},"color":{"field":"g","type":"nominal","scale":{"domain":["Female","Male"],"range":["#5096ea","#e2275b"]},"legend":{"title":null}}}},
{"data":{"name":"cens"},"transform":[{"filter":"datum.p==='B'"}],"mark":{"type":"tick","orient":"vertical","size":5,"thickness":1},"encoding":{"x":{"field":"t","type":"quantitative"},"y":{"field":"s","type":"quantitative"},"color":{"field":"g","type":"nominal","legend":{"title":null}}}},
{"data":{"name":"notes"},"transform":[{"filter":"datum.p==='B'"}],"mark":{"type":"text","fontSize":10.5,"align":"left","baseline":"middle"},"encoding":{"x":{"datum":163},"y":{"datum":0.86},"text":{"field":"pv"}}},
{"data":{"name":"notes"},"transform":[{"filter":"datum.p==='B'"}],"mark":{"type":"text","fontSize":10,"baseline":"middle"},"encoding":{"x":{"datum":100},"y":{"datum":1.18},"text":{"field":"title"}}},
{"data":{"name":"notes"},"transform":[{"filter":"datum.p==='B'"}],"mark":{"type":"text","fontSize":22,"baseline":"middle"},"encoding":{"x":{"datum":-36},"y":{"datum":1.21},"text":{"field":"letter"}}}
]},
{"width":198,"height":140,"layer":[
{"data":{"name":"km"},"transform":[{"filter":"datum.p==='C' && datum.g!=='Poorly differented/Undifferented'"}],"mark":{"type":"line","interpolate":"step-after","strokeWidth":1},"encoding":{"x":{"field":"t","type":"quantitative","scale":{"domain":[-10,209],"nice":false,"zero":false},"axis":{"values":[0,50,100,150,200],"title":"Survival months"}},"y":{"field":"s","type":"quantitative","scale":{"domain":[-0.055,1.05],"nice":false,"zero":false},"axis":{"values":[0,0.2,0.4,0.6,0.8,1],"format":".1f","title":"Survival probability"}},"color":{"field":"g","type":"nominal","scale":{"domain":["Well differented","Moderately differented"],"range":["#5096ea","#e2275b"]},"legend":{"title":null,"orient":"none","legendX":22,"legendY":-3,"direction":"horizontal","labelFontSize":9,"labelLimit":300}}}},
{"data":{"name":"cens"},"transform":[{"filter":"datum.p==='C' && datum.g!=='Poorly differented/Undifferented'"}],"mark":{"type":"tick","orient":"vertical","size":5,"thickness":1},"encoding":{"x":{"field":"t","type":"quantitative"},"y":{"field":"s","type":"quantitative"},"color":{"field":"g","type":"nominal","legend":{"title":null,"orient":"none","legendX":22,"legendY":-3,"direction":"horizontal","labelFontSize":9,"labelLimit":300}}}},
{"data":{"name":"km"},"transform":[{"filter":"datum.p==='C' && datum.g==='Poorly differented/Undifferented'"}],"mark":{"type":"line","interpolate":"step-after","strokeWidth":1},"encoding":{"x":{"field":"t","type":"quantitative"},"y":{"field":"s","type":"quantitative"},"stroke":{"field":"g","type":"nominal","scale":{"domain":["Poorly differented/Undifferented"],"range":["#2f8f2f"]},"legend":{"title":null,"orient":"none","legendX":22,"legendY":7,"labelFontSize":9,"labelLimit":300}}}},
{"data":{"name":"cens"},"transform":[{"filter":"datum.p==='C' && datum.g==='Poorly differented/Undifferented'"}],"mark":{"type":"tick","orient":"vertical","size":5,"thickness":1,"color":"#2f8f2f"},"encoding":{"x":{"field":"t","type":"quantitative"},"y":{"field":"s","type":"quantitative"}}},
{"data":{"name":"notes"},"transform":[{"filter":"datum.p==='C'"}],"mark":{"type":"text","fontSize":10.5,"align":"left","baseline":"middle"},"encoding":{"x":{"datum":20},"y":{"datum":0.83},"text":{"field":"pv"}}},
{"data":{"name":"notes"},"transform":[{"filter":"datum.p==='C'"}],"mark":{"type":"text","fontSize":10,"baseline":"middle"},"encoding":{"x":{"datum":100},"y":{"datum":1.18},"text":{"field":"title"}}},
{"data":{"name":"notes"},"transform":[{"filter":"datum.p==='C'"}],"mark":{"type":"text","fontSize":22,"baseline":"middle"},"encoding":{"x":{"datum":-36},"y":{"datum":1.21},"text":{"field":"letter"}}}
]},
{"width":198,"height":140,"layer":[
{"data":{"name":"km"},"transform":[{"filter":"datum.p==='D'"}],"mark":{"type":"line","interpolate":"step-after","strokeWidth":1},"encoding":{"x":{"field":"t","type":"quantitative","scale":{"domain":[-10,209],"nice":false,"zero":false},"axis":{"values":[0,50,100,150,200],"title":"Survival months"}},"y":{"field":"s","type":"quantitative","scale":{"domain":[-0.055,1.05],"nice":false,"zero":false},"axis":{"values":[0,0.2,0.4,0.6,0.8,1],"format":".1f","title":"Survival probability"}},"color":{"field":"g","type":"nominal","scale":{"domain":["Only one side","Bilateral"],"range":["#5096ea","#e2275b"]},"legend":{"title":null}}}},
{"data":{"name":"cens"},"transform":[{"filter":"datum.p==='D'"}],"mark":{"type":"tick","orient":"vertical","size":5,"thickness":1},"encoding":{"x":{"field":"t","type":"quantitative"},"y":{"field":"s","type":"quantitative"},"color":{"field":"g","type":"nominal","legend":{"title":null}}}},
{"data":{"name":"notes"},"transform":[{"filter":"datum.p==='D'"}],"mark":{"type":"text","fontSize":10.5,"align":"left","baseline":"middle"},"encoding":{"x":{"datum":136},"y":{"datum":0.84},"text":{"field":"pv"}}},
{"data":{"name":"notes"},"transform":[{"filter":"datum.p==='D'"}],"mark":{"type":"text","fontSize":10,"baseline":"middle"},"encoding":{"x":{"datum":100},"y":{"datum":1.18},"text":{"field":"title"}}},
{"data":{"name":"notes"},"transform":[{"filter":"datum.p==='D'"}],"mark":{"type":"text","fontSize":22,"baseline":"middle"},"encoding":{"x":{"datum":-36},"y":{"datum":1.21},"text":{"field":"letter"}}}
]},
{"width":198,"height":140,"layer":[
{"data":{"name":"km"},"transform":[{"filter":"datum.p==='E'"}],"mark":{"type":"line","interpolate":"step-after","strokeWidth":1},"encoding":{"x":{"field":"t","type":"quantitative","scale":{"domain":[-10,209],"nice":false,"zero":false},"axis":{"values":[0,50,100,150,200],"title":"Survival months"}},"y":{"field":"s","type":"quantitative","scale":{"domain":[-0.055,1.05],"nice":false,"zero":false},"axis":{"values":[0,0.2,0.4,0.6,0.8,1],"format":".1f","title":"Survival probability"}},"color":{"field":"g","type":"nominal","scale":{"domain":["Localized","Regional","Distant"],"range":["#5096ea","#e2275b","#2f8f2f"]},"legend":{"title":null,"columns":2}}}},
{"data":{"name":"cens"},"transform":[{"filter":"datum.p==='E'"}],"mark":{"type":"tick","orient":"vertical","size":5,"thickness":1},"encoding":{"x":{"field":"t","type":"quantitative"},"y":{"field":"s","type":"quantitative"},"color":{"field":"g","type":"nominal","legend":{"title":null,"columns":2}}}},
{"data":{"name":"notes"},"transform":[{"filter":"datum.p==='E'"}],"mark":{"type":"text","fontSize":10.5,"align":"left","baseline":"middle"},"encoding":{"x":{"datum":101},"y":{"datum":0.855},"text":{"field":"pv"}}},
{"data":{"name":"notes"},"transform":[{"filter":"datum.p==='E'"}],"mark":{"type":"text","fontSize":10,"baseline":"middle"},"encoding":{"x":{"datum":100},"y":{"datum":1.18},"text":{"field":"title"}}},
{"data":{"name":"notes"},"transform":[{"filter":"datum.p==='E'"}],"mark":{"type":"text","fontSize":22,"baseline":"middle"},"encoding":{"x":{"datum":-36},"y":{"datum":1.21},"text":{"field":"letter"}}}
]},
{"width":198,"height":140,"layer":[
{"data":{"name":"km"},"transform":[{"filter":"datum.p==='F'"}],"mark":{"type":"line","interpolate":"step-after","strokeWidth":1},"encoding":{"x":{"field":"t","type":"quantitative","scale":{"domain":[-10,209],"nice":false,"zero":false},"axis":{"values":[0,50,100,150,200],"title":"Survival months"}},"y":{"field":"s","type":"quantitative","scale":{"domain":[-0.055,1.05],"nice":false,"zero":false},"axis":{"values":[0,0.2,0.4,0.6,0.8,1],"format":".1f","title":"Survival probability"}},"color":{"field":"g","type":"nominal","scale":{"domain":["T1","T2","T3","T4"],"range":["#5096ea","#e2275b","#2f8f2f","#f28a4c"]},"legend":{"title":null,"columns":2,"columnPadding":18}}}},
{"data":{"name":"cens"},"transform":[{"filter":"datum.p==='F'"}],"mark":{"type":"tick","orient":"vertical","size":5,"thickness":1},"encoding":{"x":{"field":"t","type":"quantitative"},"y":{"field":"s","type":"quantitative"},"color":{"field":"g","type":"nominal","legend":{"title":null,"columns":2,"columnPadding":18}}}},
{"data":{"name":"notes"},"transform":[{"filter":"datum.p==='F'"}],"mark":{"type":"text","fontSize":10.5,"align":"left","baseline":"middle"},"encoding":{"x":{"datum":141},"y":{"datum":0.84},"text":{"field":"pv"}}},
{"data":{"name":"notes"},"transform":[{"filter":"datum.p==='F'"}],"mark":{"type":"text","fontSize":10,"baseline":"middle"},"encoding":{"x":{"datum":100},"y":{"datum":1.18},"text":{"field":"title"}}},
{"data":{"name":"notes"},"transform":[{"filter":"datum.p==='F'"}],"mark":{"type":"text","fontSize":22,"baseline":"middle"},"encoding":{"x":{"datum":-36},"y":{"datum":1.21},"text":{"field":"letter"}}}
]},
{"width":198,"height":140,"layer":[
{"data":{"name":"km"},"transform":[{"filter":"datum.p==='G'"}],"mark":{"type":"line","interpolate":"step-after","strokeWidth":1},"encoding":{"x":{"field":"t","type":"quantitative","scale":{"domain":[-10,209],"nice":false,"zero":false},"axis":{"values":[0,50,100,150,200],"title":"Survival months"}},"y":{"field":"s","type":"quantitative","scale":{"domain":[-0.055,1.05],"nice":false,"zero":false},"axis":{"values":[0,0.2,0.4,0.6,0.8,1],"format":".1f","title":"Survival probability"}},"color":{"field":"g","type":"nominal","scale":{"domain":["N0","N1","N2/3"],"range":["#5096ea","#e2275b","#2f8f2f"]},"legend":{"title":null,"columns":2,"columnPadding":18}}}},
{"data":{"name":"cens"},"transform":[{"filter":"datum.p==='G'"}],"mark":{"type":"tick","orient":"vertical","size":5,"thickness":1},"encoding":{"x":{"field":"t","type":"quantitative"},"y":{"field":"s","type":"quantitative"},"color":{"field":"g","type":"nominal","legend":{"title":null,"columns":2,"columnPadding":18}}}},
{"data":{"name":"notes"},"transform":[{"filter":"datum.p==='G'"}],"mark":{"type":"text","fontSize":10.5,"align":"left","baseline":"middle"},"encoding":{"x":{"datum":131},"y":{"datum":0.845},"text":{"field":"pv"}}},
{"data":{"name":"notes"},"transform":[{"filter":"datum.p==='G'"}],"mark":{"type":"text","fontSize":10,"baseline":"middle"},"encoding":{"x":{"datum":100},"y":{"datum":1.18},"text":{"field":"title"}}},
{"data":{"name":"notes"},"transform":[{"filter":"datum.p==='G'"}],"mark":{"type":"text","fontSize":22,"baseline":"middle"},"encoding":{"x":{"datum":-36},"y":{"datum":1.21},"text":{"field":"letter"}}}
]},
{"width":198,"height":140,"layer":[
{"data":{"name":"km"},"transform":[{"filter":"datum.p==='H'"}],"mark":{"type":"line","interpolate":"step-after","strokeWidth":1},"encoding":{"x":{"field":"t","type":"quantitative","scale":{"domain":[-10,209],"nice":false,"zero":false},"axis":{"values":[0,50,100,150,200],"title":"Survival months"}},"y":{"field":"s","type":"quantitative","scale":{"domain":[-0.055,1.05],"nice":false,"zero":false},"axis":{"values":[0,0.2,0.4,0.6,0.8,1],"format":".1f","title":"Survival probability"}},"color":{"field":"g","type":"nominal","scale":{"domain":["M0","M1"],"range":["#5096ea","#e2275b"]},"legend":{"title":null}}}},
{"data":{"name":"cens"},"transform":[{"filter":"datum.p==='H'"}],"mark":{"type":"tick","orient":"vertical","size":5,"thickness":1},"encoding":{"x":{"field":"t","type":"quantitative"},"y":{"field":"s","type":"quantitative"},"color":{"field":"g","type":"nominal","legend":{"title":null}}}},
{"data":{"name":"notes"},"transform":[{"filter":"datum.p==='H'"}],"mark":{"type":"text","fontSize":10.5,"align":"left","baseline":"middle"},"encoding":{"x":{"datum":169},"y":{"datum":0.845},"text":{"field":"pv"}}},
{"data":{"name":"notes"},"transform":[{"filter":"datum.p==='H'"}],"mark":{"type":"text","fontSize":10,"baseline":"middle"},"encoding":{"x":{"datum":100},"y":{"datum":1.18},"text":{"field":"title"}}},
{"data":{"name":"notes"},"transform":[{"filter":"datum.p==='H'"}],"mark":{"type":"text","fontSize":22,"baseline":"middle"},"encoding":{"x":{"datum":-36},"y":{"datum":1.21},"text":{"field":"letter"}}}
]},
{"width":198,"height":140,"layer":[
{"data":{"name":"km"},"transform":[{"filter":"datum.p==='I'"}],"mark":{"type":"line","interpolate":"step-after","strokeWidth":1},"encoding":{"x":{"field":"t","type":"quantitative","scale":{"domain":[-10,209],"nice":false,"zero":false},"axis":{"values":[0,50,100,150,200],"title":"Survival months"}},"y":{"field":"s","type":"quantitative","scale":{"domain":[-0.055,1.05],"nice":false,"zero":false},"axis":{"values":[0,0.2,0.4,0.6,0.8,1],"format":".1f","title":"Survival probability"}},"color":{"field":"g","type":"nominal","scale":{"domain":["No","Yes"],"range":["#5096ea","#e2275b"]},"legend":{"title":null}}}},
{"data":{"name":"cens"},"transform":[{"filter":"datum.p==='I'"}],"mark":{"type":"tick","orient":"vertical","size":5,"thickness":1},"encoding":{"x":{"field":"t","type":"quantitative"},"y":{"field":"s","type":"quantitative"},"color":{"field":"g","type":"nominal","legend":{"title":null}}}},
{"data":{"name":"notes"},"transform":[{"filter":"datum.p==='I'"}],"mark":{"type":"text","fontSize":10.5,"align":"left","baseline":"middle"},"encoding":{"x":{"datum":170},"y":{"datum":0.845},"text":{"field":"pv"}}},
{"data":{"name":"notes"},"transform":[{"filter":"datum.p==='I'"}],"mark":{"type":"text","fontSize":10,"baseline":"middle"},"encoding":{"x":{"datum":100},"y":{"datum":1.18},"text":{"field":"title"}}},
{"data":{"name":"notes"},"transform":[{"filter":"datum.p==='I'"}],"mark":{"type":"text","fontSize":22,"baseline":"middle"},"encoding":{"x":{"datum":-36},"y":{"datum":1.21},"text":{"field":"letter"}}}
]},
{"width":198,"height":140,"layer":[
{"data":{"name":"km"},"transform":[{"filter":"datum.p==='J'"}],"mark":{"type":"line","interpolate":"step-after","strokeWidth":1},"encoding":{"x":{"field":"t","type":"quantitative","scale":{"domain":[-10,209],"nice":false,"zero":false},"axis":{"values":[0,50,100,150,200],"title":"Survival months"}},"y":{"field":"s","type":"quantitative","scale":{"domain":[-0.055,1.05],"nice":false,"zero":false},"axis":{"values":[0,0.2,0.4,0.6,0.8,1],"format":".1f","title":"Survival probability"}},"color":{"field":"g","type":"nominal","scale":{"domain":["No","Yes"],"range":["#5096ea","#e2275b"]},"legend":{"title":null}}}},
{"data":{"name":"cens"},"transform":[{"filter":"datum.p==='J'"}],"mark":{"type":"tick","orient":"vertical","size":5,"thickness":1},"encoding":{"x":{"field":"t","type":"quantitative"},"y":{"field":"s","type":"quantitative"},"color":{"field":"g","type":"nominal","legend":{"title":null}}}},
{"data":{"name":"notes"},"transform":[{"filter":"datum.p==='J'"}],"mark":{"type":"text","fontSize":10.5,"align":"left","baseline":"middle"},"encoding":{"x":{"datum":168},"y":{"datum":0.84},"text":{"field":"pv"}}},
{"data":{"name":"notes"},"transform":[{"filter":"datum.p==='J'"}],"mark":{"type":"text","fontSize":10,"baseline":"middle"},"encoding":{"x":{"datum":100},"y":{"datum":1.18},"text":{"field":"title"}}},
{"data":{"name":"notes"},"transform":[{"filter":"datum.p==='J'"}],"mark":{"type":"text","fontSize":22,"baseline":"middle"},"encoding":{"x":{"datum":-36},"y":{"datum":1.21},"text":{"field":"letter"}}}
]},
{"width":198,"height":140,"layer":[
{"data":{"name":"km"},"transform":[{"filter":"datum.p==='K'"}],"mark":{"type":"line","interpolate":"step-after","strokeWidth":1},"encoding":{"x":{"field":"t","type":"quantitative","scale":{"domain":[-10,209],"nice":false,"zero":false},"axis":{"values":[0,50,100,150,200],"title":"Survival months"}},"y":{"field":"s","type":"quantitative","scale":{"domain":[-0.055,1.05],"nice":false,"zero":false},"axis":{"values":[0,0.2,0.4,0.6,0.8,1],"format":".1f","title":"Survival probability"}},"color":{"field":"g","type":"nominal","scale":{"domain":["No","Yes"],"range":["#5096ea","#e2275b"]},"legend":{"title":null}}}},
{"data":{"name":"cens"},"transform":[{"filter":"datum.p==='K'"}],"mark":{"type":"tick","orient":"vertical","size":5,"thickness":1},"encoding":{"x":{"field":"t","type":"quantitative"},"y":{"field":"s","type":"quantitative"},"color":{"field":"g","type":"nominal","legend":{"title":null}}}},
{"data":{"name":"notes"},"transform":[{"filter":"datum.p==='K'"}],"mark":{"type":"text","fontSize":10.5,"align":"left","baseline":"middle"},"encoding":{"x":{"datum":169.5},"y":{"datum":0.84},"text":{"field":"pv"}}},
{"data":{"name":"notes"},"transform":[{"filter":"datum.p==='K'"}],"mark":{"type":"text","fontSize":10,"baseline":"middle"},"encoding":{"x":{"datum":100},"y":{"datum":1.18},"text":{"field":"title"}}},
{"data":{"name":"notes"},"transform":[{"filter":"datum.p==='K'"}],"mark":{"type":"text","fontSize":22,"baseline":"middle"},"encoding":{"x":{"datum":-36},"y":{"datum":1.21},"text":{"field":"letter"}}}
]}
]
}
